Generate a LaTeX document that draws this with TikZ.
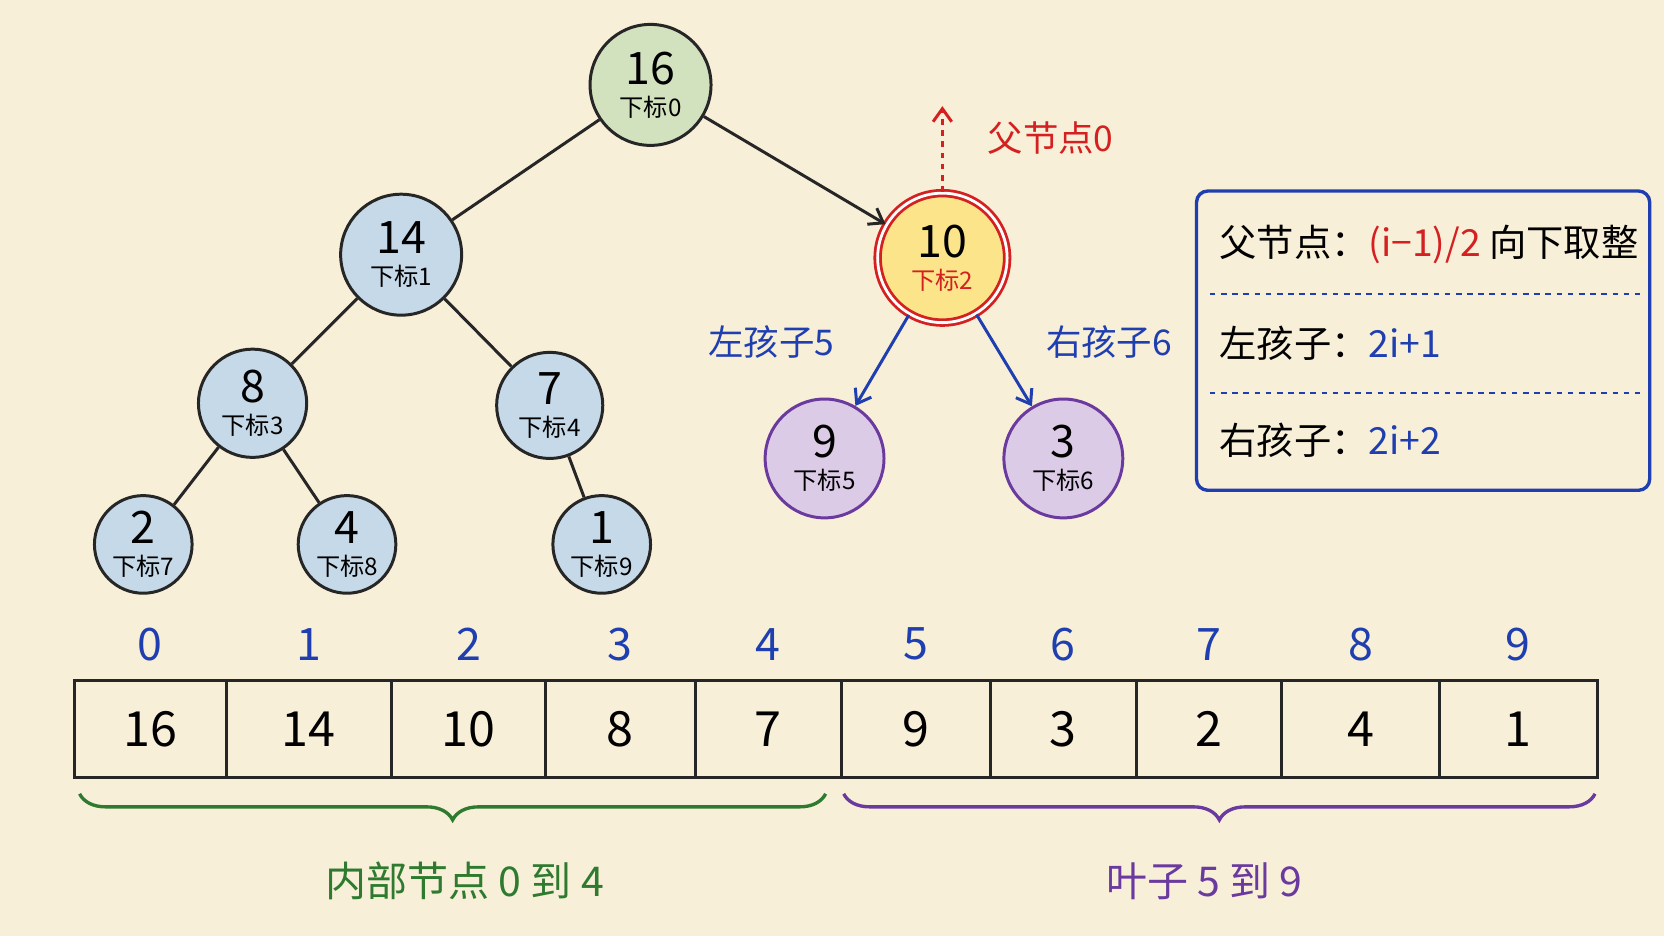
\documentclass[tikz,border=0pt]{standalone}
\usepackage{fontspec}
\setmainfont{Noto Sans CJK SC}
\usetikzlibrary{decorations.pathreplacing,arrows.meta}
\definecolor{bg}{HTML}{F8EFD9}
\definecolor{gfill}{HTML}{D3E2BE}
\definecolor{bfill}{HTML}{C6D9E8}
\definecolor{yfill}{HTML}{FBE489}
\definecolor{pfill}{HTML}{DCCBE6}
\definecolor{myred}{HTML}{D42020}
\definecolor{myblue}{HTML}{1F3FB0}
\definecolor{mypurple}{HTML}{6A3A9E}
\definecolor{mygreen}{HTML}{2E7A2E}
\begin{document}
\begin{tikzpicture}[x=0.02cm,y=-0.02cm,
  nd/.style={circle,draw=black!85,line width=1.6pt,inner sep=0pt,align=center},
  edge/.style={line width=1.6pt,black!85},
  arr/.style={-{Straight Barb[length=7pt,width=10pt]},line width=1.6pt},
  cell/.style={draw=black!85,line width=1.6pt,minimum height=92*0.02cm,inner sep=0pt,font=\fontsize{26}{26}\selectfont},
  idx/.style={font=\fontsize{24}{24}\selectfont,text=myblue},
  bt/.style={font=\fontsize{20}{20}\selectfont,anchor=west}]
\fill[bg] (0,0) rectangle (1568,882);
\useasboundingbox (0,0) rectangle (1568,882);
\newcommand{\hn}[7]{\node[nd,fill=#5,draw=#6,minimum size=#4*0.02cm,text=#7] (#1) at #2 {\fontsize{24}{24}\selectfont #3\\[5pt]\fontsize{13}{13}\selectfont 下标#1};}
\hn{0}{(613,80)}{16}{114}{gfill}{black!85}{black}
\hn{1}{(378,240)}{14}{114}{bfill}{black!85}{black}
\node[circle,draw=myred,line width=1.5pt,fill=yfill,minimum size=122*0.02cm,double=white,double distance=1.5pt,inner sep=0pt,align=center,text=myred] (2) at (888,243) {\fontsize{24}{24}\selectfont\color{black}10\\[5pt]\fontsize{13}{13}\selectfont 下标2};
\hn{3}{(238,380)}{8}{102}{bfill}{black!85}{black}
\hn{4}{(518,382)}{7}{100}{bfill}{black!85}{black}
\hn{5}{(777,432)}{9}{112}{pfill}{mypurple}{black}
\hn{6}{(1002,432)}{3}{112}{pfill}{mypurple}{black}
\hn{7}{(135,513)}{2}{92}{bfill}{black!85}{black}
\hn{8}{(327,513)}{4}{92}{bfill}{black!85}{black}
\hn{9}{(567,513)}{1}{92}{bfill}{black!85}{black}
\draw[edge] (0)--(1); \draw[edge,arr] (0)--(2);
\draw[edge] (1)--(3); \draw[edge] (1)--(4);
\draw[edge] (3)--(7); \draw[edge] (3)--(8); \draw[edge] (4)--(9);
\draw[arr,myblue] (2)--(5); \draw[arr,myblue] (2)--(6);
\node[text=myblue,font=\fontsize{19}{19}\selectfont] (ll) at (727,322) {左孩子5};
\node[text=myblue,font=\fontsize{19}{19}\selectfont] (rl) at (1045,322) {右孩子6};
\coordinate (up) at (888,100);
\draw[arr,myred,dashed] (2.north)--(up);
\node[text=myred,font=\fontsize{19}{19}\selectfont] (pl) at (990,130) {父节点0};
% box
\node[draw=myblue,line width=1.8pt,rounded corners=6pt,minimum width=427*0.02cm,minimum height=282*0.02cm] (box) at (1341,321) {};
\draw[myblue,dashed,line width=1.1pt] (1140,277)--(1545,277);
\draw[myblue,dashed,line width=1.1pt] (1140,370)--(1545,370);
\node[bt] (r1) at (1143,230) {父节点：\textcolor{myred}{(\textit{i}−1)/2} 向下取整};
\node[bt] (r2) at (1143,323) {左孩子：\textcolor{myblue}{2\textit{i}+1}};
\node[bt] (r3) at (1143,415) {右孩子：\textcolor{myblue}{2\textit{i}+2}};
% array
\def\xs{{70,213,369,514,655,793,933,1071,1208,1356,1505}}
\foreach \v [count=\i from 0] in {16,14,10,8,7,9,3,2,4,1}{
  \pgfmathsetmacro\xa{\xs[\i]}\pgfmathsetmacro\xb{\xs[\i+1]}
  \node[cell,minimum width=(\xb-\xa)*0.02cm] (c\i) at ({(\xa+\xb)/2},687) {\v};
  \node[idx] (i\i) at ({(\xa+\xb)/2},607) {\i};
}
\draw[mygreen,line width=1.8pt,decorate,decoration={brace,mirror,amplitude=14pt}] (75,748)--(778,748);
\draw[mypurple,line width=1.8pt,decorate,decoration={brace,mirror,amplitude=14pt}] (795,748)--(1503,748);
\node[text=mygreen,font=\fontsize{22}{22}\selectfont] (gl) at (438,830) {内部节点 0 到 4};
\node[text=mypurple,font=\fontsize{22}{22}\selectfont] (pl2) at (1135,830) {叶子 5 到 9};
\end{tikzpicture}
\end{document}
